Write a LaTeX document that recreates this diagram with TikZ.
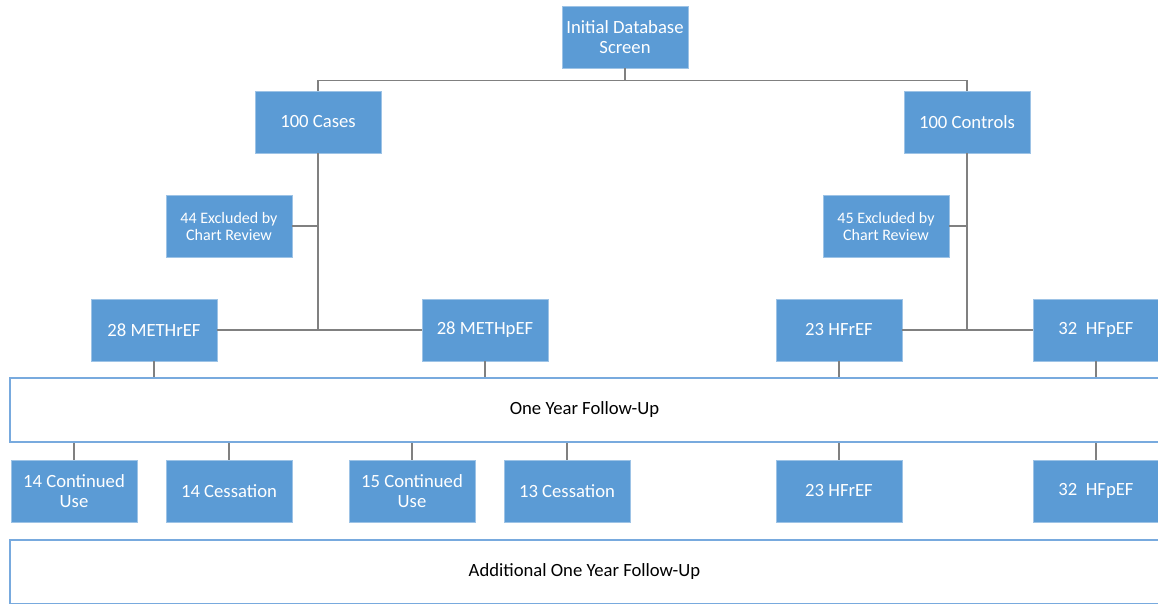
\documentclass[tikz,border=0pt]{standalone}
\usepackage{fontspec}
\setmainfont{Carlito}
\definecolor{boxblue}{RGB}{91,155,213}
\definecolor{bandblue}{RGB}{120,170,222}
\definecolor{linkgray}{RGB}{128,128,128}

\begin{document}
\begin{tikzpicture}[x=0.75pt,y=-0.75pt,
  box/.style={fill=boxblue,draw=boxblue!60!white,line width=0.4pt,text=white,align=center,
    minimum width=94.5pt,minimum height=46.5pt,inner sep=0pt,
    font=\fontsize{14}{15}\selectfont},
  smallbox/.style={box,font=\fontsize{12}{12.75}\selectfont},
  band/.style={draw=bandblue,line width=1pt,fill=white,minimum width=861.75pt,
    minimum height=48pt,inner sep=0pt,font=\fontsize{14}{15}\selectfont},
  link/.style={draw=linkgray,line width=0.8pt}]
\useasboundingbox (0,0) rectangle (1158,604);
\clip (0,0) rectangle (1158,604);

%%% Top of the tree
\node[box] (init) at (625,37) {Initial Database\\Screen};
\node[box] (cases) at (318,122) {100 Cases};
\node[box] (controls) at (967,122) {100 Controls};

%%% Exclusions
\node[smallbox] (exA) at (229,226) {44 Excluded by\\Chart Review};
\node[smallbox] (exB) at (886,226) {45 Excluded by\\Chart Review};

%%% Groups
\node[box] (methr) at (154,330) {28 METHrEF};
\node[box] (methp) at (485,330) {28 METHpEF};
\node[box] (hfr) at (839,330) {23 HFrEF};
\node[box] (hfp) at (1096,330) {32\ \ HFpEF};

%%% Follow-up bands
\node[band] (year1) at (584.5,410) {One Year Follow-Up};
\node[band] (year2) at (584.5,572) {Additional One Year Follow-Up};

%%% After one year
\node[box] (contA) at (74,491) {14 Continued\\Use};
\node[box] (stopA) at (229,491) {14 Cessation};
\node[box] (contB) at (412,491) {15 Continued\\Use};
\node[box] (stopB) at (567,491) {13 Cessation};
\node[box] (hfr2) at (839,491) {23 HFrEF};
\node[box] (hfp2) at (1096,491) {32\ \ HFpEF};

%%% Connectors
\draw[link] (init.south) -- ++(0,12) coordinate (bus);
\draw[link] (cases.north) |- (bus) -| (controls.north);

\draw[link] (cases.south) -- (cases.south |- methr.east);
\draw[link] (methr.east) -- (methp.west);
\draw[link] (exA.east) -- (exA.east -| cases.south);

\draw[link] (controls.south) -- (controls.south |- hfr.east);
\draw[link] (hfr.east) -- (hfp.west);
\draw[link] (exB.east) -- (exB.east -| controls.south);

\draw[link] (methr.south) -- (methr.south |- year1.north);
\draw[link] (methp.south) -- (methp.south |- year1.north);
\draw[link] (hfr.south) -- (hfr.south |- year1.north);
\draw[link] (hfp.south) -- (hfp.south |- year1.north);

\draw[link] (contA.north) -- (contA.north |- year1.south);
\draw[link] (stopA.north) -- (stopA.north |- year1.south);
\draw[link] (contB.north) -- (contB.north |- year1.south);
\draw[link] (stopB.north) -- (stopB.north |- year1.south);
\draw[link] (hfr2.north) -- (hfr2.north |- year1.south);
\draw[link] (hfp2.north) -- (hfp2.north |- year1.south);
\end{tikzpicture}
\end{document}
